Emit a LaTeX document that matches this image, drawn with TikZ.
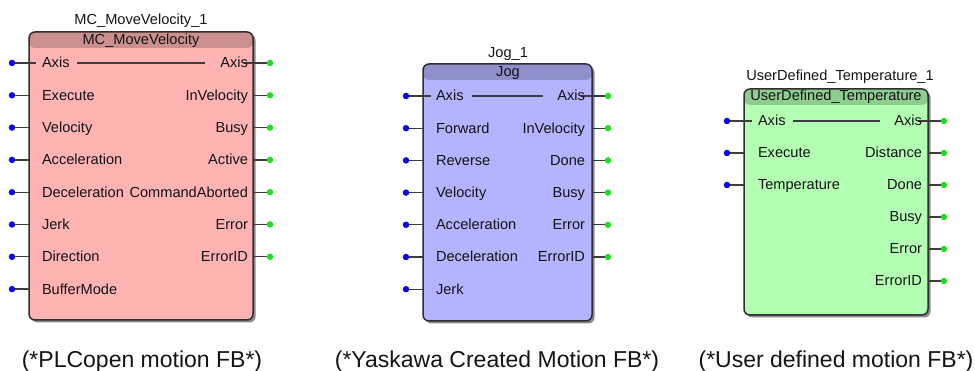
\documentclass[tikz,border=0pt]{standalone}
\usepackage{fontspec}
\setmainfont{Liberation Sans}
\usetikzlibrary{shadows}

\definecolor{pinblue}{HTML}{0A0AE0}
\definecolor{pingreen}{HTML}{22DD22}
\definecolor{wire}{HTML}{3C3C3C}
\definecolor{frame}{HTML}{2E2E2E}
\definecolor{txt}{HTML}{141414}
\definecolor{bodyA}{HTML}{FFB3B3}
\definecolor{headA}{HTML}{CC8F8F}
\definecolor{bodyB}{HTML}{B3B3FF}
\definecolor{headB}{HTML}{8F8FCC}
\definecolor{bodyC}{HTML}{B3FFB3}
\definecolor{headC}{HTML}{8FCC8F}

% pin dots sit above the wires
\pgfdeclarelayer{dots}
\pgfsetlayers{main,dots}

\tikzset{
  fbbox/.style 2 args={draw=frame, line width=1.5pt, fill=#1, rounded corners=6pt,
    anchor=north west, inner sep=0pt, outer sep=0pt,
    drop shadow={shadow xshift=2.5pt, shadow yshift=-2.5pt, opacity=.65, fill=black!70},
    path picture={\fill[#2] (path picture bounding box.north west)
      rectangle ([yshift=-16pt]path picture bounding box.north east);}},
  lbl/.style={font=\fontsize{14.6}{16}\selectfont, text=txt, inner sep=0pt, outer sep=0pt},
  inlbl/.style={lbl, anchor=base west},
  outlbl/.style={lbl, anchor=base east},
  ttl/.style={lbl, anchor=base},
  caption/.style={font=\fontsize{23}{26}\selectfont, text=txt, inner sep=0pt, anchor=base},
  indot/.style={circle, fill=pinblue, minimum size=6.5pt, inner sep=0pt},
  outdot/.style={circle, fill=pingreen, minimum size=6.5pt, inner sep=0pt},
  wireline/.style={draw=wire, line width=1.3pt},
}

\begin{document}
\begin{tikzpicture}[x=1pt, y=-1pt]
\useasboundingbox (0,0) rectangle (975,371);

% ---------------- MC_MoveVelocity ----------------
\node[fbbox={bodyA}{headA}, minimum width=224pt, minimum height=288pt] (fbA) at (29,32) {};
\node[ttl] (A-inst) at (141,25) {MC\_MoveVelocity\_1};
\node[ttl] (A-type) at (141,45) {MC\_MoveVelocity};
\begin{pgfonlayer}{dots}
\foreach \n/\t [count=\i from 0] in {Axis/Axis, Exe/Execute, Vel/Velocity, Acc/Acceleration,
    Dec/Deceleration, Jrk/Jerk, Dir/Direction, Buf/BufferMode} {
  \pgfmathsetmacro\yy{63+32.3*\i}
  \node[inlbl] (A-i\n) at (42,\yy+5) {\t};
  \node[indot] (A-d\n) at (12,\yy) {};
}
\foreach \n/\t [count=\i from 0] in {Axis/Axis, InV/InVelocity, Busy/Busy, Act/Active,
    Abt/CommandAborted, Err/Error, EID/ErrorID} {
  \pgfmathsetmacro\yy{63+32.3*\i}
  \node[outlbl] (A-o\n) at (248,\yy+5) {\t};
  \node[outdot] (A-e\n) at (270,\yy) {};
}
\end{pgfonlayer}
\foreach \n in {Exe,Vel,Acc,Dec,Jrk,Dir,Buf}
  \draw[wireline] (A-d\n.center) -- (fbA.west |- A-d\n);
\foreach \n in {InV,Busy,Act,Abt,Err,EID}
  \draw[wireline] (fbA.east |- A-e\n) -- (A-e\n.center);
\coordinate (A-axl) at (36,63);
\coordinate (A-axm1) at (77,63);
\coordinate (A-axm2) at (205,63);
\coordinate (A-axr) at (244,63);
\draw[wireline] (A-dAxis.center) -- (A-axl);
\draw[wireline] (A-axm1) -- (A-axm2);
\draw[wireline] (A-axr) -- (A-eAxis.center);
\node[caption] (A-cap) at (142,367) {(*PLCopen motion FB*)};

% ---------------- Jog ----------------
\node[fbbox={bodyB}{headB}, minimum width=169pt, minimum height=257pt] (fbB) at (423,64) {};
\node[ttl] (B-inst) at (508,58) {Jog\_1};
\node[ttl] (B-type) at (508,77) {Jog};
\begin{pgfonlayer}{dots}
\foreach \n/\t [count=\i from 0] in {Axis/Axis, Fwd/Forward, Rev/Reverse, Vel/Velocity,
    Acc/Acceleration, Dec/Deceleration, Jrk/Jerk} {
  \pgfmathsetmacro\yy{96+32.2*\i}
  \node[inlbl] (B-i\n) at (436,\yy+5) {\t};
  \node[indot] (B-d\n) at (406,\yy) {};
}
\foreach \n/\t [count=\i from 0] in {Axis/Axis, InV/InVelocity, Done/Done, Busy/Busy,
    Err/Error, EID/ErrorID} {
  \pgfmathsetmacro\yy{96+32.2*\i}
  \node[outlbl] (B-o\n) at (585,\yy+5) {\t};
  \node[outdot] (B-e\n) at (608,\yy) {};
}
\end{pgfonlayer}
\foreach \n in {Fwd,Rev,Vel,Acc,Dec,Jrk}
  \draw[wireline] (B-d\n.center) -- (fbB.west |- B-d\n);
\foreach \n in {InV,Done,Busy,Err,EID}
  \draw[wireline] (fbB.east |- B-e\n) -- (B-e\n.center);
\coordinate (B-axl) at (431,96);
\coordinate (B-axm1) at (472,96);
\coordinate (B-axm2) at (543,96);
\coordinate (B-axr) at (581,96);
\draw[wireline] (B-dAxis.center) -- (B-axl);
\draw[wireline] (B-axm1) -- (B-axm2);
\draw[wireline] (B-axr) -- (B-eAxis.center);
\node[caption] (B-cap) at (497,367) {(*Yaskawa Created Motion FB*)};

% ---------------- UserDefined_Temperature ----------------
\node[fbbox={bodyC}{headC}, minimum width=184pt, minimum height=226pt] (fbC) at (744,89) {};
\node[ttl] (C-inst) at (840,81) {UserDefined\_Temperature\_1};
\node[ttl] (C-type) at (836,101) {UserDefined\_Temperature};
\begin{pgfonlayer}{dots}
\foreach \n/\t [count=\i from 0] in {Axis/Axis, Exe/Execute, Tmp/Temperature} {
  \pgfmathsetmacro\yy{121+32*\i}
  \node[inlbl] (C-i\n) at (758,\yy+5) {\t};
  \node[indot] (C-d\n) at (727,\yy) {};
}
\foreach \n/\t [count=\i from 0] in {Axis/Axis, Dist/Distance, Done/Done, Busy/Busy,
    Err/Error, EID/ErrorID} {
  \pgfmathsetmacro\yy{121+32*\i}
  \node[outlbl] (C-o\n) at (922,\yy+5) {\t};
  \node[outdot] (C-e\n) at (944,\yy) {};
}
\end{pgfonlayer}
\foreach \n in {Exe,Tmp}
  \draw[wireline] (C-d\n.center) -- (fbC.west |- C-d\n);
\foreach \n in {Dist,Done,Busy,Err,EID}
  \draw[wireline] (fbC.east |- C-e\n) -- (C-e\n.center);
\coordinate (C-axl) at (752,121);
\coordinate (C-axm1) at (793,121);
\coordinate (C-axm2) at (880,121);
\coordinate (C-axr) at (918,121);
\draw[wireline] (C-dAxis.center) -- (C-axl);
\draw[wireline] (C-axm1) -- (C-axm2);
\draw[wireline] (C-axr) -- (C-eAxis.center);
\node[caption] (C-cap) at (836,367) {(*User defined motion FB*)};
\end{tikzpicture}
\end{document}
